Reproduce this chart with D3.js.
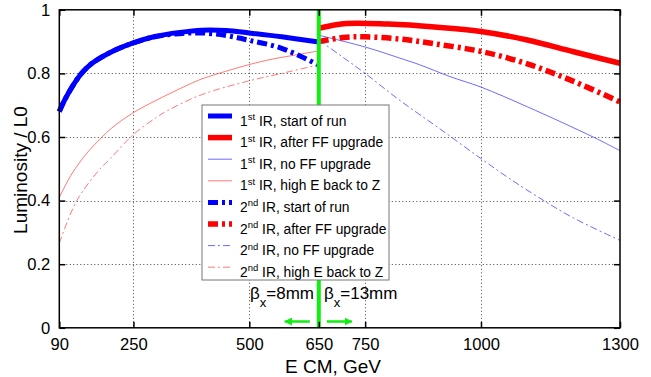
<!DOCTYPE html>
<html>
<head>
<meta charset="utf-8">
<script src="https://cdn.jsdelivr.net/npm/d3@7"></script>
<style>
  html, body { margin: 0; padding: 0; background: #fff; }
  svg { display: block; font-family: "Liberation Sans", Arial, sans-serif; }
</style>
</head>
<body>
<svg id="chart" width="651" height="377"></svg>
<script>
// Axis ticks
const energyTicks = [90, 250, 500, 650, 750, 1000, 1300];
const lumTicks = [0, 0.2, 0.4, 0.6, 0.8, 1];
const gridEnergy = [250, 500, 650, 750, 1000];
const gridLum = [0.2, 0.4, 0.6, 0.8];

// Luminosity / L0 versus centre-of-mass energy [E (GeV), L/L0]
const ir1Start = [[90,0.68],[100,0.712],[120,0.763],[138,0.80],[160,0.831],[200,0.866],[248,0.895],[296,0.916],[350,0.929],[397,0.936],[450,0.935],[500,0.927],[570,0.915],[650,0.899]];
const ir1AfterFF = [[650,0.942],[710,0.957],[800,0.955],[900,0.946],[1000,0.932],[1100,0.905],[1200,0.868],[1300,0.832]];
const ir1NoFF = [[650,0.92],[750,0.883],[825,0.848],[868,0.827],[933,0.79],[1000,0.757],[1100,0.695],[1242,0.60],[1300,0.557]];
const ir1BackToZ = [[90,0.41],[117,0.484],[150,0.55],[181,0.598],[203,0.628],[248,0.675],[300,0.716],[383,0.774],[404,0.786],[498,0.827],[550,0.845],[600,0.858],[650,0.871]];
const ir2Start = [[90,0.68],[100,0.712],[120,0.763],[138,0.80],[160,0.831],[200,0.866],[248,0.895],[296,0.915],[350,0.925],[400,0.927],[450,0.919],[500,0.904],[570,0.879],[650,0.826]];
const ir2AfterFF = [[650,0.90],[710,0.914],[750,0.915],[825,0.908],[900,0.893],[1000,0.869],[1100,0.83],[1200,0.775],[1300,0.71]];
const ir2NoFF = [[650,0.905],[700,0.853],[750,0.80],[825,0.715],[912,0.625],[1000,0.532],[1063,0.468],[1130,0.405],[1200,0.345],[1300,0.275]];
const ir2BackToZ = [[90,0.266],[127,0.398],[174,0.493],[200,0.532],[250,0.608],[300,0.662],[325,0.684],[397,0.733],[498,0.776],[570,0.80],[650,0.827]];

const seriesLabels = [
  ["1", "st", " IR, start of run"],
  ["1", "st", " IR, after FF upgrade"],
  ["1", "st", " IR, no FF upgrade"],
  ["1", "st", " IR, high E back to Z"],
  ["2", "nd", " IR, start of run"],
  ["2", "nd", " IR, after FF upgrade"],
  ["2", "nd", " IR, no FF upgrade"],
  ["2", "nd", " IR, high E back to Z"]
];

const thickDash = "10,4,3,4";
const thinDash = "7,3,2,3";
const seriesStyle = [
  {data: ir1Start,   color: "#0000ff", width: 5,   dash: null,      opacity: 1},
  {data: ir1AfterFF, color: "#ff0000", width: 5.5, dash: null,      opacity: 1},
  {data: ir1NoFF,    color: "#3a3aff", width: 1,   dash: null,      opacity: 0.75},
  {data: ir1BackToZ, color: "#ff3030", width: 1,   dash: null,      opacity: 0.65},
  {data: ir2Start,   color: "#0000ff", width: 5,   dash: thickDash, opacity: 1},
  {data: ir2AfterFF, color: "#ff0000", width: 5.5, dash: thickDash, opacity: 1},
  {data: ir2NoFF,    color: "#3a3aff", width: 1,   dash: thinDash,  opacity: 0.75},
  {data: ir2BackToZ, color: "#ff3030", width: 1,   dash: thinDash,  opacity: 0.65}
];

const svg = d3.select("#chart");
const x = d3.scaleLinear().domain([90, 1300]).range([59.3, 620]);
const y = d3.scaleLinear().domain([0, 1]).range([327.8, 9.8]);
const tickFont = 16.6;

// dotted grid
const grid = svg.append("g").attr("stroke", "#444").attr("stroke-width", 1).attr("stroke-dasharray", "1,2.5");
grid.selectAll("line.v").data(gridEnergy).join("line")
  .attr("x1", d => Math.round(x(d)) + 0.5).attr("x2", d => Math.round(x(d)) + 0.5)
  .attr("y1", y(1)).attr("y2", y(0));
grid.selectAll("line.h").data(gridLum).join("line")
  .attr("x1", x(90)).attr("x2", x(1300))
  .attr("y1", d => Math.round(y(d)) + 0.5).attr("y2", d => Math.round(y(d)) + 0.5);

// curves
const line = d3.line().x(d => x(d[0])).y(d => y(d[1])).curve(d3.curveCatmullRom.alpha(0.5));
svg.append("g").selectAll("path").data(seriesStyle).join("path")
  .attr("d", d => line(d.data))
  .attr("fill", "none")
  .attr("stroke", d => d.color)
  .attr("stroke-width", d => d.width)
  .attr("stroke-opacity", d => d.opacity)
  .attr("stroke-dasharray", d => d.dash);

// beta* switch at 650 GeV
svg.append("line")
  .attr("x1", x(650)).attr("x2", x(650))
  .attr("y1", y(1)).attr("y2", y(0))
  .attr("stroke", "#11ee11").attr("stroke-width", 4);

// axes with inward ticks on all four sides
function styleAxis(g) {
  g.select(".domain").remove();
  g.selectAll(".tick line").attr("stroke", "#000").attr("stroke-width", 1.5);
  g.selectAll("text").attr("font-size", tickFont).attr("fill", "#000")
    .attr("font-family", "Liberation Sans, Arial, sans-serif");
}
svg.append("g").attr("transform", `translate(0,${y(0)})`)
  .call(d3.axisBottom(x).tickValues(energyTicks).tickFormat(d3.format("d")).tickSize(-6).tickPadding(10))
  .call(styleAxis);
svg.append("g").attr("transform", `translate(0,${y(1)})`)
  .call(d3.axisTop(x).tickValues(energyTicks).tickFormat("").tickSize(-6))
  .call(styleAxis);
svg.append("g").attr("transform", `translate(${x(90)},0)`)
  .call(d3.axisLeft(y).tickValues(lumTicks).tickFormat(d => d === 0 || d === 1 ? String(d) : d3.format(".1f")(d)).tickSize(-6).tickPadding(9))
  .call(styleAxis);
svg.append("g").attr("transform", `translate(${x(1300)},0)`)
  .call(d3.axisRight(y).tickValues(lumTicks).tickFormat("").tickSize(-6))
  .call(styleAxis);

// frame
svg.append("rect")
  .attr("x", x(90)).attr("y", y(1))
  .attr("width", x(1300) - x(90)).attr("height", y(0) - y(1))
  .attr("fill", "none").attr("stroke", "#000").attr("stroke-width", 1.5);

// axis titles
svg.append("text")
  .attr("x", 333).attr("y", 373)
  .attr("text-anchor", "middle").attr("font-size", 19)
  .text("E CM, GeV");
svg.append("text")
  .attr("transform", "translate(27,170) rotate(-90)")
  .attr("text-anchor", "middle").attr("font-size", 19)
  .text("Luminosity / L0");

// beta_x annotations and arrows
function betaLabel(x0, value) {
  const t = svg.append("text").attr("x", x0).attr("y", 299).attr("font-size", 17);
  t.append("tspan").text("β");
  t.append("tspan").attr("font-size", 13).attr("dy", 8).text("x");
  t.append("tspan").attr("dy", -8).text("=" + value);
}
betaLabel(250, "8mm");
betaLabel(324, "13mm");

const defs = svg.append("defs");
defs.append("marker").attr("id", "arrowHead")
  .attr("viewBox", "0 0 10 10").attr("refX", 9).attr("refY", 5)
  .attr("markerWidth", 3.2).attr("markerHeight", 3.2).attr("orient", "auto")
  .append("path").attr("d", "M0,0 L10,5 L0,10 Z").attr("fill", "#11ee11");
svg.append("line")
  .attr("x1", x(650) - 9).attr("x2", x(650) - 34).attr("y1", 321.5).attr("y2", 321.5)
  .attr("stroke", "#11ee11").attr("stroke-width", 2.5).attr("marker-end", "url(#arrowHead)");
svg.append("line")
  .attr("x1", x(650) + 8).attr("x2", x(650) + 33).attr("y1", 321.5).attr("y2", 321.5)
  .attr("stroke", "#11ee11").attr("stroke-width", 2.5).attr("marker-end", "url(#arrowHead)");

// legend
const legend = svg.append("g");
legend.append("rect")
  .attr("x", 202).attr("y", 105).attr("width", 187).attr("height", 175)
  .attr("fill", "#fff").attr("stroke", "#777").attr("stroke-width", 1);
const rowY = i => 116 + i * 21.6;
const rows = legend.selectAll("g.row").data(seriesStyle).join("g")
  .attr("transform", (d, i) => `translate(0,${rowY(i)})`);
rows.append("line")
  .attr("x1", 208).attr("x2", 232).attr("y1", 0).attr("y2", 0)
  .attr("stroke", d => d.color)
  .attr("stroke-width", d => d.width)
  .attr("stroke-opacity", d => d.opacity)
  .attr("stroke-dasharray", d => d.dash);
rows.each(function(d, i) {
  const lab = seriesLabels[i];
  const t = d3.select(this).append("text").attr("x", 240).attr("y", 9.5).attr("font-size", 13.8);
  t.append("tspan").text(lab[0]);
  t.append("tspan").attr("font-size", 9.5).attr("dy", -5.5).text(lab[1]);
  t.append("tspan").attr("dy", 5.5).text(lab[2]);
});
</script>
</body>
</html>
